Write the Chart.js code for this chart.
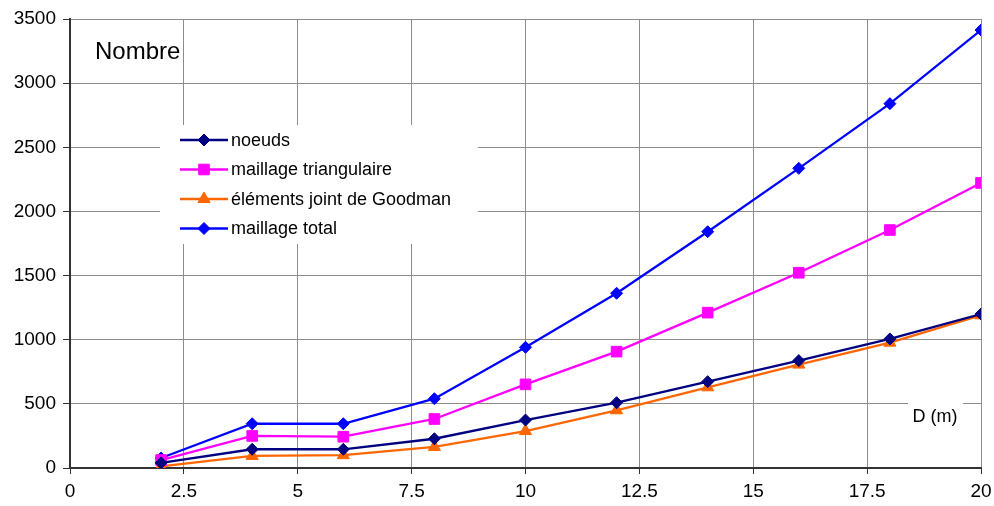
<!DOCTYPE html>
<html>
<head>
<meta charset="utf-8">
<script src="https://cdn.jsdelivr.net/npm/chart.js@4.4.0/dist/chart.umd.min.js"></script>
<style>
  html, body { margin: 0; padding: 0; background: #fff; }
</style>
</head>
<body>
<canvas id="chart" width="994" height="506"></canvas>
<script>
// distance D (m) en abscisse
const distances = [2, 4, 6, 8, 10, 12, 14, 16, 18, 20];

// nombre d'éléments pour chaque série
const noeuds = [40, 146, 146, 228, 374, 509, 673, 837, 1006, 1200];
const maillageTriangulaire = [62, 250, 244, 382, 652, 907, 1211, 1522, 1855, 2222];
const elementsJoint = [12, 94, 100, 164, 288, 450, 629, 806, 977, 1190];
const maillageTotal = [78, 345, 345, 540, 941, 1362, 1842, 2336, 2840, 3414];

const seriesNames = ['noeuds', 'maillage triangulaire', 'éléments joint de Goodman', 'maillage total'];
const xTicks = [0, 2.5, 5, 7.5, 10, 12.5, 15, 17.5, 20];
const yTicks = [0, 500, 1000, 1500, 2000, 2500, 3000, 3500];

const FONT = '"Liberation Sans", Arial, sans-serif';

function points(values) {
    return distances.map((d, i) => ({ x: d, y: values[i] }));
}

function serie(label, values, color, style, radius) {
    return {
        label: label,
        data: points(values),
        borderColor: color,
        backgroundColor: color,
        borderWidth: 2.3,
        pointStyle: style,
        pointRadius: radius,
        pointBorderWidth: 1,
        pointBorderColor: color,
        pointBackgroundColor: color,
        tension: 0
    };
}

// légende, "Nombre" et "D (m)" dessinés dans le graphique
const decor = {
    id: 'decor',
    afterDraw(chart) {
        const ctx = chart.ctx;
        ctx.save();

        // cadre blanc de la légende (cache la grille)
        ctx.fillStyle = '#fff';
        ctx.fillRect(160, 125, 318, 119);

        chart.data.datasets.forEach((ds, i) => {
            let y = 140 + i * 29.5;
            ctx.strokeStyle = ds.borderColor;
            ctx.lineWidth = 2.3;
            ctx.beginPath();
            ctx.moveTo(180, y);
            ctx.lineTo(228, y);
            ctx.stroke();
            ctx.fillStyle = ds.borderColor;
            ctx.lineWidth = 1;
            Chart.helpers.drawPoint(ctx, {
                pointStyle: ds.pointStyle,
                radius: ds.pointRadius,
                rotation: 0,
                borderWidth: 1
            }, 204, y);

            ctx.fillStyle = '#000';
            ctx.font = '18px ' + FONT;
            ctx.textBaseline = 'middle';
            ctx.textAlign = 'left';
            ctx.fillText(ds.label, 231, y + 1);
        });

        ctx.font = '24px ' + FONT;
        ctx.textBaseline = 'alphabetic';
        ctx.fillStyle = '#000';
        ctx.fillText('Nombre', 95, 59);

        ctx.fillStyle = '#fff';
        ctx.fillRect(908, 401, 55, 30);
        ctx.fillStyle = '#000';
        ctx.font = '18px ' + FONT;
        ctx.textAlign = 'center';
        ctx.textBaseline = 'middle';
        ctx.fillText('D (m)', 935, 417);

        ctx.restore();
    }
};

new Chart(document.getElementById('chart'), {
    type: 'line',
    data: {
        datasets: [
            serie(seriesNames[0], noeuds, '#000080', 'rectRot', 6),
            serie(seriesNames[1], maillageTriangulaire, '#FF00FF', 'rect', 7.5),
            serie(seriesNames[2], elementsJoint, '#FF6600', 'triangle', 7),
            serie(seriesNames[3], maillageTotal, '#0000FF', 'rectRot', 6)
        ]
    },
    options: {
        responsive: false,
        animation: false,
        devicePixelRatio: 1,
        layout: { padding: { top: 19, right: 13, left: 0, bottom: 0 } },
        plugins: {
            legend: { display: false },
            tooltip: { enabled: false }
        },
        scales: {
            x: {
                type: 'linear',
                min: 0,
                max: 20,
                afterBuildTicks: (scale) => { scale.ticks = xTicks.map(v => ({ value: v })); },
                afterFit: (scale) => {
                    scale.height = 38;
                    scale.paddingLeft = 0;
                    scale.paddingRight = 0;
                },
                ticks: {
                    color: '#000',
                    font: { size: 19, family: FONT },
                    padding: 6,
                    maxRotation: 0,
                    autoSkip: false,
                    callback: (v) => String(v)
                },
                grid: {
                    color: '#8c8c8c',
                    lineWidth: 1,
                    tickLength: 6,
                    tickColor: '#333'
                },
                border: { color: '#333', width: 2 }
            },
            y: {
                min: 0,
                max: 3500,
                afterBuildTicks: (scale) => { scale.ticks = yTicks.map(v => ({ value: v })); },
                afterFit: (scale) => {
                    scale.width = 70;
                    scale.paddingTop = 0;
                    scale.paddingBottom = 0;
                },
                ticks: {
                    color: '#000',
                    font: { size: 19, family: FONT },
                    padding: 7,
                    autoSkip: false,
                    callback: (v) => String(v)
                },
                grid: {
                    color: '#8c8c8c',
                    lineWidth: 1,
                    tickLength: 7,
                    tickColor: '#333'
                },
                border: { color: '#333', width: 2 }
            }
        }
    },
    plugins: [decor]
});
</script>
</body>
</html>
